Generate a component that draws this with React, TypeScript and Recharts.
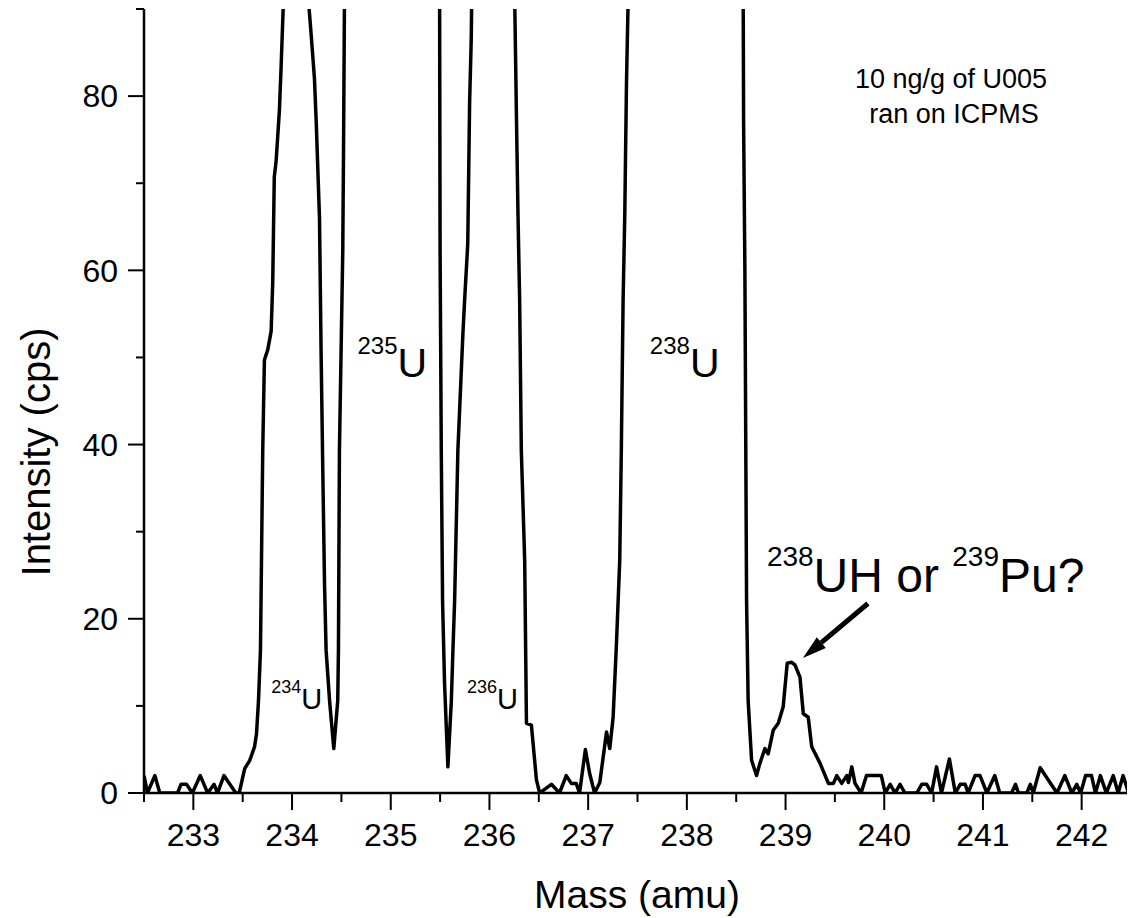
import React from 'react';
import { LineChart, Line, XAxis, YAxis, ReferenceDot } from 'recharts';

const masses = [
  232.5, 232.535, 232.61, 232.66, 232.84, 232.875, 232.93, 232.99, 233.07, 233.145,
  233.21, 233.245, 233.31, 233.43, 233.465, 233.52, 233.57, 233.62, 233.64, 233.66,
  233.68, 233.703, 233.72, 233.754, 233.788, 233.804, 233.82, 233.839, 233.872, 233.889,
  233.913, 234.04, 234.166, 234.194, 234.227, 234.245, 234.278, 234.295, 234.311, 234.329,
  234.345, 234.38, 234.423, 234.463, 234.47, 234.48, 234.497, 234.514, 234.522, 234.531,
  235.0, 235.495, 235.5, 235.512, 235.525, 235.545, 235.579, 235.614, 235.63, 235.647,
  235.68, 235.731, 235.748, 235.78, 235.799, 235.816, 235.82, 236.04, 236.256, 236.273,
  236.289, 236.306, 236.323, 236.357, 236.375, 236.425, 236.476, 236.509, 236.628, 236.71,
  236.778, 236.829, 236.879, 236.913, 236.972, 237.014, 237.065, 237.118, 237.186, 237.219,
  237.253, 237.287, 237.32, 237.336, 237.354, 237.371, 237.388, 237.405, 238.0, 238.571,
  238.575, 238.588, 238.605, 238.621, 238.656, 238.706, 238.74, 238.791, 238.824, 238.875,
  238.926, 238.976, 239.017, 239.062, 239.095, 239.146, 239.18, 239.23, 239.265, 239.35,
  239.434, 239.485, 239.519, 239.569, 239.62, 239.637, 239.671, 239.704, 239.765, 239.82,
  239.97, 240.01, 240.06, 240.11, 240.16, 240.21, 240.33, 240.38, 240.43, 240.48,
  240.53, 240.58, 240.66, 240.72, 240.77, 240.82, 240.85, 240.92, 240.97, 241.04,
  241.12, 241.17, 241.29, 241.33, 241.36, 241.445, 241.48, 241.51, 241.58, 241.75,
  241.83, 241.9, 241.95, 241.99, 242.04, 242.1, 242.14, 242.19, 242.25, 242.32,
  242.37, 242.42, 242.475, 242.5,
];

// intensity (cps); peak tops are far above the 90 cps cut-off
const intensities = [
  2, 0, 2, 0, 0, 1, 1, 0, 2, 0,
  1, 0, 2, 0, 0, 2.8, 3.7, 5.3, 6.8, 10.6,
  16.4, 39.3, 49.7, 50.9, 53, 58.5, 70.7, 72.6, 78.4, 83.3,
  91, 320, 91, 87, 82, 77, 66, 50, 37.4, 24,
  16.4, 10.6, 5.1, 10.6, 16.4, 39.3, 50.8, 62.3, 74.6, 91,
  3000, 91, 62, 39.3, 22, 12.6, 3, 10.6, 16.4, 22,
  39.3, 52.7, 56.5, 63, 79.2, 86.8, 91, 400, 91, 78,
  66.5, 56.5, 39.3, 26.7, 8, 7.8, 1.5, 0, 1, 0,
  2, 1.1, 1.1, 0, 5, 2.3, 0, 1.2, 7, 5.1,
  8.7, 17.2, 26.7, 39.3, 56.5, 66.3, 81.2, 91, 5000, 91,
  76.9, 60, 22.1, 10.6, 3.75, 2, 3.4, 5.1, 4.5, 7.2,
  8, 9.9, 14.9, 15, 14.7, 13.3, 9.1, 8.7, 5.3, 3.4,
  1.1, 1.1, 2, 1.1, 2, 1.2, 3, 1.1, 0, 2,
  2, 0, 1, 0, 1, 0, 0, 1, 1, 0,
  3, 0, 3.9, 0, 1, 1, 0, 2, 2, 0,
  2, 0, 0, 1, 0, 0, 1, 0, 2.9, 0,
  2, 0, 1, 0, 2, 2, 0, 2, 0, 2,
  0, 2, 0, 0.7,
];

const massTicks = [
  232.5, 233, 233.5, 234, 234.5, 235, 235.5, 236, 236.5, 237, 237.5,
  238, 238.5, 239, 239.5, 240, 240.5, 241, 241.5, 242, 242.5,
];
const intensityTicks = [0, 10, 20, 30, 40, 50, 60, 70, 80, 90];

const data = masses.map((mass, i) => ({ mass, intensity: intensities[i] }));

const FONT = '"Liberation Sans", Arial, Helvetica, sans-serif';

function MassTick(props: any) {
  const { x, y, payload } = props;
  const major = Number.isInteger(payload.value);
  return (
    <g>
      <line x1={x} x2={x} y1={y} y2={y + (major ? 17 : 9)} stroke="#000" strokeWidth={2} />
      {major && (
        <text x={x} y={y + 53} textAnchor="middle" fontSize={32} fontFamily={FONT} fill="#000">
          {payload.value}
        </text>
      )}
    </g>
  );
}

function IntensityTick(props: any) {
  const { x, y, payload } = props;
  const major = payload.value % 20 === 0;
  return (
    <g>
      <line x1={x - (major ? 16 : 8)} x2={x} y1={y} y2={y} stroke="#000" strokeWidth={2} />
      {major && (
        <text x={x - 26} y={y} dy="0.35em" textAnchor="end" fontSize={32} fontFamily={FONT} fill="#000">
          {payload.value}
        </text>
      )}
    </g>
  );
}

const isotope = (iso: string, sym: string, sup: number, main: number, rise: number) => (p: any) => (
  <text x={p.cx} y={p.cy} fontFamily={FONT} fill="#000">
    <tspan fontSize={sup} dy={-rise}>{iso}</tspan>
    <tspan fontSize={main} dy={rise}>{sym}</tspan>
  </text>
);

const hydrideLabel = (p: any) => (
  <text x={p.cx} y={p.cy} fontFamily={FONT} fill="#000">
    <tspan fontSize={28} dy={-26}>238</tspan>
    <tspan fontSize={48} dy={26}>{'UH or\u00a0'}</tspan>
    <tspan fontSize={28} dy={-26}>239</tspan>
    <tspan fontSize={48} dy={26}>Pu?</tspan>
  </text>
);

const noteLabel = (p: any) => (
  <text x={p.cx} y={p.cy} fontFamily={FONT} fontSize={27} fill="#000" textAnchor="middle">
    <tspan x={p.cx}>10 ng/g of U005</tspan>
    <tspan x={p.cx + 3} dy={35}>ran on ICPMS</tspan>
  </text>
);

const arrow = (p: any) => {
  const { cx, cy } = p;
  const sx = cx + 65;
  const sy = cy - 54.5;
  const len = Math.hypot(sx - cx, sy - cy);
  const ux = (cx - sx) / len;
  const uy = (cy - sy) / len;
  const bx = cx - ux * 24;
  const by = cy - uy * 24;
  const nx = -uy;
  const ny = ux;
  return (
    <g>
      <line x1={sx} y1={sy} x2={bx} y2={by} stroke="#000" strokeWidth={5} />
      <polygon
        points={`${cx},${cy} ${bx + nx * 7},${by + ny * 7} ${bx - nx * 7},${by - ny * 7}`}
        fill="#000"
      />
    </g>
  );
};

export default function App() {
  const W = 1127;
  const H = 910;
  return (
    <div style={{ position: 'relative', width: W, height: H }}>
      <LineChart width={W} height={H} data={data} margin={{ top: 1, right: 4, bottom: 0, left: 0 }}>
        <XAxis
          dataKey="mass"
          type="number"
          domain={[232.5, 242.5]}
          ticks={massTicks}
          interval={0}
          height={125}
          tickSize={0}
          tickMargin={0}
          tickLine={false}
          axisLine={{ stroke: '#000', strokeWidth: 2.5 }}
          tick={<MassTick />}
          allowDataOverflow
        />
        <YAxis
          type="number"
          domain={[0, 90]}
          ticks={intensityTicks}
          interval={0}
          width={136}
          tickSize={0}
          tickMargin={0}
          tickLine={false}
          axisLine={{ stroke: '#000', strokeWidth: 2.5 }}
          tick={<IntensityTick />}
          allowDataOverflow
        />
        <Line
          type="linear"
          dataKey="intensity"
          stroke="#000"
          strokeWidth={3.5}
          strokeLinejoin="round"
          dot={false}
          activeDot={false}
          isAnimationActive={false}
        />
        <ReferenceDot x={233.788} y={9.7} r={0} shape={isotope('234', 'U', 18, 29, 15.6)} />
        <ReferenceDot x={234.663} y={47.8} r={0} shape={isotope('235', 'U', 24, 41, 22.7)} />
        <ReferenceDot x={235.772} y={9.7} r={0} shape={isotope('236', 'U', 18, 29, 15.6)} />
        <ReferenceDot x={237.625} y={47.8} r={0} shape={isotope('238', 'U', 24, 41, 22.7)} />
        <ReferenceDot x={238.811} y={23.05} r={0} shape={hydrideLabel} />
        <ReferenceDot x={239.176} y={15.5} r={0} shape={arrow} />
        <ReferenceDot x={240.677} y={80.9} r={0} shape={noteLabel} />
      </LineChart>
      <svg
        width={W}
        height={H}
        style={{ position: 'absolute', left: 0, top: 0, pointerEvents: 'none' }}
      >
        <text x={629} y={900} textAnchor="middle" fontSize={39} fontFamily={FONT} fill="#000">
          Mass (amu)
        </text>
        <text
          transform="translate(42,444) rotate(-90)"
          textAnchor="middle"
          fontSize={40}
          fontFamily={FONT}
          fill="#000"
        >
          Intensity (cps)
        </text>
      </svg>
    </div>
  );
}
